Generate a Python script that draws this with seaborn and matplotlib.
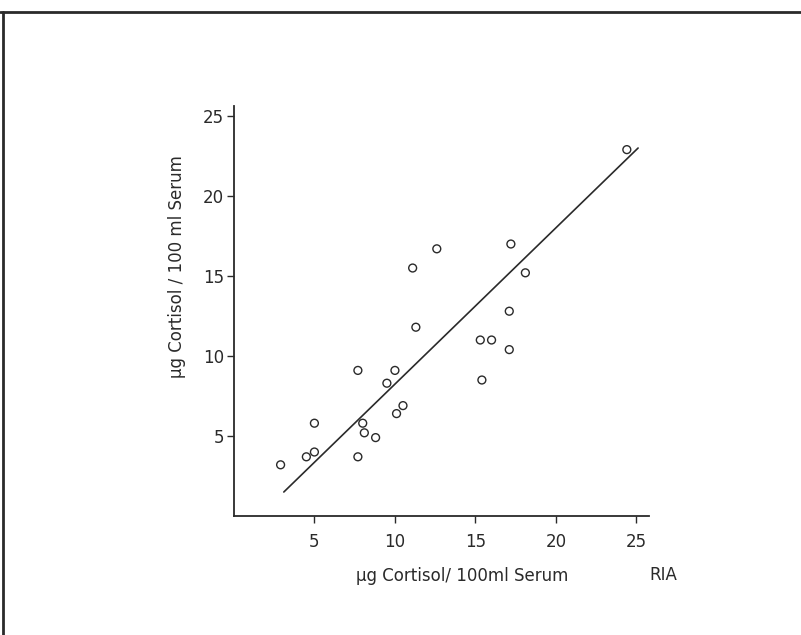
import matplotlib
matplotlib.use("Agg")
import matplotlib.pyplot as plt
from matplotlib.lines import Line2D
import seaborn as sns
import pandas as pd

# data: RIA (x) vs second method (y), µg cortisol / 100 ml serum
ria = [2.9, 4.5, 5.0, 5.0, 7.7, 7.7, 8.0, 8.1, 8.8, 9.5, 10.0, 10.1, 10.5, 11.3,
       15.3, 16.0, 15.4, 24.4, 12.6, 11.1, 17.2, 18.1, 17.1, 17.1]
other = [3.2, 3.7, 4.0, 5.8, 9.1, 3.7, 5.8, 5.2, 4.9, 8.3, 9.1, 6.4, 6.9, 11.8,
         11.0, 11.0, 8.5, 22.9, 16.7, 15.5, 17.0, 15.2, 12.8, 10.4]
# regression line end points
line_x = [3.1, 25.1]
line_y = [1.5, 23.0]
ticks = [5, 10, 15, 20, 25]

df = pd.DataFrame({'ria': ria, 'other': other})

sns.set_style('ticks')
plt.rcParams['font.family'] = ['DejaVu Sans']
ink = '#2a2a2a'

fig = plt.figure(figsize=(8.01, 6.35), dpi=100)
ax = fig.add_axes([0.292, 0.1874, 0.5187, 0.645])

sns.scatterplot(data=df, x='ria', y='other', ax=ax, marker='o', s=32,
                facecolor='none', edgecolor=ink, linewidth=1.0)
ax.plot(line_x, line_y, color=ink, linewidth=1.2)

ax.set_xlim(0, 25.8)
ax.set_ylim(0, 25.6)
ax.set_xticks(ticks)
ax.set_yticks(ticks)
ax.tick_params(direction='out', length=5, width=1.0, colors=ink, labelsize=12)
ax.tick_params(axis='x', pad=7)
ax.tick_params(axis='y', pad=2)
for s in ['top', 'right']:
    ax.spines[s].set_visible(False)
for s in ['left', 'bottom']:
    ax.spines[s].set_linewidth(1.3)
    ax.spines[s].set_color(ink)

ax.set_xlabel('µg Cortisol/ 100ml Serum', fontsize=12, color=ink)
ax.set_ylabel('µg Cortisol / 100 ml Serum', fontsize=12, color=ink)
ax.xaxis.set_label_coords(0.549, -0.125)
ax.yaxis.set_label_coords(-0.116, 0.608)
ax.text(1.033, -0.144, 'RIA', transform=ax.transAxes, fontsize=12,
        color=ink, ha='center', va='center')

# page frame from the scan (top and left edges)
fig.add_artist(Line2D([0, 1], [0.981, 0.981], transform=fig.transFigure,
                      color=ink, linewidth=2))
fig.add_artist(Line2D([0.004, 0.004], [0, 0.981], transform=fig.transFigure,
                      color=ink, linewidth=2))

fig.savefig('out.png', dpi=100)
